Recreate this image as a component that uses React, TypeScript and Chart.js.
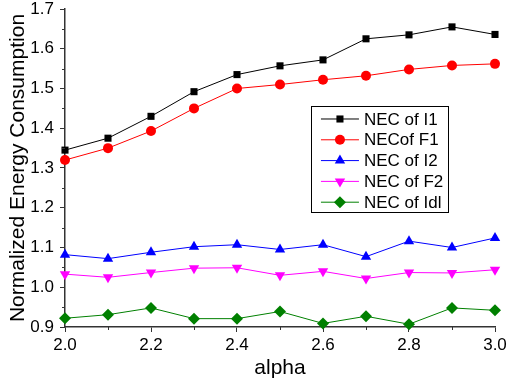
import React, { useEffect, useRef } from "react";
import { Chart, registerables } from "chart.js";

Chart.register(...registerables);

const alpha = [2.0, 2.1, 2.2, 2.3, 2.4, 2.5, 2.6, 2.7, 2.8, 2.9, 3.0];
const necI1 = [1.345, 1.375, 1.43, 1.492, 1.535, 1.557, 1.572, 1.625, 1.635, 1.655, 1.636];
const necF1 = [1.32, 1.35, 1.393, 1.45, 1.5, 1.51, 1.522, 1.532, 1.548, 1.558, 1.562];
const necI2 = [1.082, 1.072, 1.088, 1.102, 1.107, 1.095, 1.107, 1.077, 1.116, 1.1, 1.124];
const necF2 = [1.033, 1.025, 1.037, 1.048, 1.049, 1.03, 1.04, 1.022, 1.037, 1.036, 1.044];
const necIdl = [0.922, 0.931, 0.948, 0.921, 0.921, 0.939, 0.909, 0.927, 0.907, 0.948, 0.942];

const seriesNames = ["NEC of I1", "NECof F1", "NEC of I2", "NEC of F2", "NEC of Idl"];
const seriesColors = ["#000000", "#ff0000", "#0000ff", "#ff00ff", "#008000"];
const seriesStyles = ["rect", "circle", "triangle", "triangle", "rectRot"];
const seriesRotation = [0, 0, 0, 180, 0];
const seriesRadius = [5, 5, 6, 6, 6];
const seriesValues = [necI1, necF1, necI2, necF2, necIdl];

const yMinorTicks = [0.95, 1.05, 1.15, 1.25, 1.35, 1.45, 1.55, 1.65];
const xMinorTicks = [2.1, 2.3, 2.5, 2.7, 2.9];

const FONT = "'Liberation Sans', Arial, sans-serif";

function drawMarker(ctx: CanvasRenderingContext2D, style: string, rot: number, x: number, y: number, r: number, color: string) {
  ctx.save();
  ctx.fillStyle = color;
  ctx.translate(x, y);
  ctx.rotate((rot * Math.PI) / 180);
  ctx.beginPath();
  if (style === "rect") {
    const s = r * Math.SQRT1_2;
    ctx.rect(-s, -s, 2 * s, 2 * s);
  } else if (style === "circle") {
    ctx.arc(0, 0, r, 0, Math.PI * 2);
  } else if (style === "triangle") {
    ctx.moveTo(0, -r);
    ctx.lineTo(r * 0.866, r * 0.5);
    ctx.lineTo(-r * 0.866, r * 0.5);
    ctx.closePath();
  } else if (style === "rectRot") {
    ctx.moveTo(0, -r);
    ctx.lineTo(r, 0);
    ctx.lineTo(0, r);
    ctx.lineTo(-r, 0);
    ctx.closePath();
  }
  ctx.fill();
  ctx.restore();
}

const extrasPlugin = {
  id: "extras",
  afterDraw(chart: any) {
    const ctx = chart.ctx as CanvasRenderingContext2D;
    const xs = chart.scales.x;
    const ys = chart.scales.y;
    const area = chart.chartArea;
    ctx.save();
    ctx.strokeStyle = "#333333";
    ctx.lineWidth = 1;
    for (const v of yMinorTicks) {
      const py = Math.round(ys.getPixelForValue(v)) + 0.5;
      ctx.beginPath();
      ctx.moveTo(area.left - 3, py);
      ctx.lineTo(area.left, py);
      ctx.stroke();
    }
    for (const v of xMinorTicks) {
      const px = Math.round(xs.getPixelForValue(v)) + 0.5;
      ctx.beginPath();
      ctx.moveTo(px, area.bottom);
      ctx.lineTo(px, area.bottom + 3);
      ctx.stroke();
    }
    // legend
    const w = area.right - area.left;
    const h = area.bottom - area.top;
    const bx = area.left + w * 0.572;
    const by = area.top + h * 0.305;
    const bw = 137;
    const bh = 106;
    ctx.strokeStyle = "#000000";
    ctx.lineWidth = 1;
    ctx.strokeRect(Math.round(bx) + 0.5, Math.round(by) + 0.5, bw, bh);
    ctx.font = `17px ${FONT}`;
    ctx.textBaseline = "middle";
    ctx.textAlign = "left";
    seriesNames.forEach((name, i) => {
      const rowY = by + 13 + i * 20.8;
      ctx.strokeStyle = seriesColors[i];
      ctx.lineWidth = 1;
      ctx.beginPath();
      ctx.moveTo(bx + 10, rowY);
      ctx.lineTo(bx + 48, rowY);
      ctx.stroke();
      drawMarker(ctx, seriesStyles[i], seriesRotation[i], bx + 29, rowY, seriesRadius[i], seriesColors[i]);
      ctx.fillStyle = "#000000";
      ctx.fillText(name, bx + 53, rowY + 1);
    });
    ctx.restore();
  },
};

export default function App() {
  const ref = useRef<HTMLCanvasElement | null>(null);
  useEffect(() => {
    document.body.style.margin = "0";
    const canvas = ref.current;
    if (!canvas) return;
    const chart = new Chart(canvas, {
      type: "line",
      data: {
        datasets: seriesNames.map((name, i) => ({
          label: name,
          data: alpha.map((a, j) => ({ x: a, y: seriesValues[i][j] })),
          borderColor: seriesColors[i],
          backgroundColor: seriesColors[i],
          borderWidth: 1,
          pointStyle: seriesStyles[i] as any,
          rotation: seriesRotation[i],
          pointRadius: seriesRadius[i],
          pointBorderWidth: 0,
          pointHoverRadius: seriesRadius[i],
          tension: 0,
          clip: false as any,
        })),
      },
      options: {
        animation: false,
        responsive: false,
        maintainAspectRatio: false,
        layout: { padding: { top: 9, right: 13, left: 0, bottom: 0 } },
        plugins: {
          legend: { display: false },
          tooltip: { enabled: false },
        },
        scales: {
          x: {
            type: "linear",
            min: 2.0,
            max: 3.0,
            afterFit: (s: any) => {
              s.height = 54;
              s.paddingLeft = 0;
              s.paddingRight = 0;
            },
            ticks: {
              stepSize: 0.2,
              color: "#000000",
              font: { family: FONT, size: 17 },
              padding: 3,
              maxRotation: 0,
              callback: (v: any) => Number(v).toFixed(1),
            },
            grid: { drawOnChartArea: false, tickLength: 5, tickColor: "#333333", tickWidth: 1 },
            border: { display: true, color: "#333333", width: 1.5 },
            title: {
              display: true,
              text: "alpha",
              color: "#000000",
              font: { family: FONT, size: 21 },
              padding: { top: 0, bottom: 0 },
            },
          },
          y: {
            type: "linear",
            min: 0.9,
            max: 1.7,
            afterFit: (s: any) => {
              s.width = 65;
              s.paddingTop = 0;
              s.paddingBottom = 0;
            },
            ticks: {
              stepSize: 0.1,
              color: "#000000",
              font: { family: FONT, size: 17 },
              padding: 6,
              callback: (v: any) => Number(v).toFixed(1),
            },
            grid: { drawOnChartArea: false, tickLength: 5, tickColor: "#333333", tickWidth: 1 },
            border: { display: true, color: "#333333", width: 1.5 },
            title: {
              display: true,
              text: "Normalized Energy Consumption",
              color: "#000000",
              font: { family: FONT, size: 21 },
              padding: { top: 6, bottom: 0 },
            },
          },
        },
      },
      plugins: [extrasPlugin],
    });
    return () => chart.destroy();
  }, []);
  return (
    <div style={{ width: 508, height: 381 }}>
      <canvas ref={ref} width={508} height={381} style={{ display: "block" }} />
    </div>
  );
}
